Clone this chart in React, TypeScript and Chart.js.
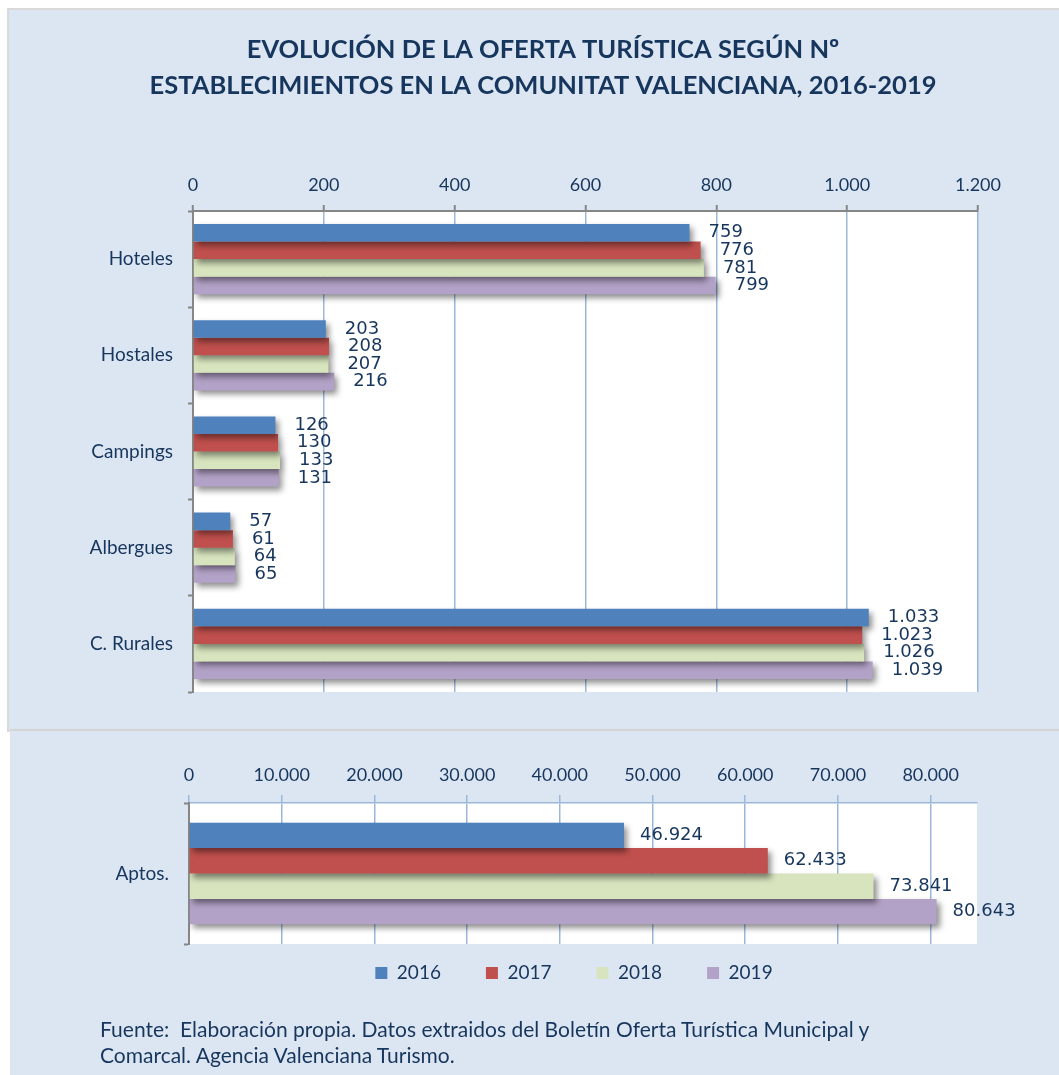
import React, { useEffect, useRef } from 'react';
import { Chart, registerables } from 'chart.js';

Chart.register(...registerables);

const categories = ['Hoteles', 'Hostales', 'Campings', 'Albergues', 'C. Rurales'];
const years = ['2016', '2017', '2018', '2019'];
const values2016 = [759, 203, 126, 57, 1033];
const values2017 = [776, 208, 130, 61, 1023];
const values2018 = [781, 207, 133, 64, 1026];
const values2019 = [799, 216, 131, 65, 1039];
const aptosCategory = ['Aptos.'];
const aptosValues = [46924, 62433, 73841, 80643];
const aptosTicks = [0, 10000, 20000, 30000, 40000, 50000, 60000, 70000, 80000];
const seriesColors = ['#4f81bd', '#c0504d', '#d7e4bd', '#b3a2c7'];
const titleLines = [
  'EVOLUCIÓN DE LA OFERTA TURÍSTICA SEGÚN Nº',
  'ESTABLECIMIENTOS EN LA COMUNITAT VALENCIANA, 2016-2019',
];
const sourceLines = [
  'Fuente:  Elaboración propia. Datos extraidos del Boletín Oferta Turística Municipal y',
  'Comarcal. Agencia Valenciana Turismo.',
];

const TEXT = '#17365d';
const GRID = '#9bb7d9';
const AXIS = '#868686';
const PANEL = '#dce6f2';

const fmt = (v: number) => String(Math.round(v)).replace(/\B(?=(\d{3})+(?!\d))/g, '.');

const plotBg = {
  id: 'plotBg',
  beforeDraw(chart: any) {
    const { ctx, chartArea: a } = chart;
    ctx.save();
    ctx.fillStyle = '#ffffff';
    ctx.fillRect(a.left, a.top, a.right - a.left, a.bottom - a.top);
    ctx.restore();
  },
};

const barShadow = {
  id: 'barShadow',
  beforeDatasetsDraw(chart: any) {
    const ctx = chart.ctx;
    ctx.save();
    ctx.shadowColor = 'rgba(0,0,0,0.45)';
    ctx.shadowBlur = 6;
    ctx.shadowOffsetX = 3;
    ctx.shadowOffsetY = 4;
  },
  afterDatasetsDraw(chart: any) {
    chart.ctx.restore();
  },
};

const valueLabels = {
  id: 'valueLabels',
  afterDraw(chart: any, _args: any, opts: any) {
    const ctx = chart.ctx;
    ctx.save();
    ctx.font = '18px "DejaVu Sans"';
    ctx.fillStyle = TEXT;
    ctx.textBaseline = 'middle';
    ctx.textAlign = 'left';
    chart.data.datasets.forEach((ds: any, i: number) => {
      const meta = chart.getDatasetMeta(i);
      meta.data.forEach((el: any, j: number) => {
        ctx.fillText(fmt(ds.data[j]), el.x + (opts.offset || 0), el.y);
      });
    });
    ctx.restore();
  },
};

// shifts a layout box (legend or title) after Chart.js has placed it
const boxShift = {
  id: 'boxShift',
  afterLayout(chart: any, _args: any, opts: any) {
    const shift = (box: any, s: any) => {
      if (!box || !s) return;
      const dx = s.dx || 0;
      const dy = s.dy || 0;
      box.left += dx;
      box.right += dx;
      box.top += dy;
      box.bottom += dy;
    };
    shift(chart.legend, opts.legend);
    shift(chart.titleBlock, opts.title);
  },
};

function makeDatasets(values: number[][], catPct: number) {
  return years.map((y, i) => ({
    label: y,
    data: values[i],
    backgroundColor: seriesColors[i],
    borderWidth: 0,
    categoryPercentage: catPct,
    barPercentage: 1,
  }));
}

export default function App() {
  const topRef = useRef<HTMLCanvasElement>(null);
  const botRef = useRef<HTMLCanvasElement>(null);

  useEffect(() => {
    const tickFont = { family: 'Lato', size: 18 };
    const catFont = { family: 'Lato', size: 19 };
    const top = new Chart(topRef.current as HTMLCanvasElement, {
      type: 'bar',
      data: {
        labels: categories,
        datasets: makeDatasets([values2016, values2017, values2018, values2019], 0.73) as any,
      },
      plugins: [plotBg, barShadow, valueLabels, boxShift],
      options: {
        indexAxis: 'y',
        responsive: false,
        animation: false,
        events: [],
        layout: { padding: { top: 32, left: 0, right: 81, bottom: 39 } },
        plugins: {
          legend: { display: false },
          tooltip: { enabled: false },
          title: {
            display: true,
            text: titleLines,
            color: TEXT,
            font: { family: 'Lato', size: 25.5, weight: 'bold', lineHeight: '36px' },
            padding: 0,
          },
          valueLabels: { offset: 19 },
          boxShift: { title: { dx: 54, dy: 0 } },
        } as any,
        scales: {
          x: {
            position: 'top',
            min: 0,
            max: 1200,
            ticks: {
              stepSize: 200,
              callback: (v: any) => fmt(Number(v)),
              color: TEXT,
              font: tickFont,
              padding: 9,
            },
            grid: { color: GRID, lineWidth: 1.5, tickColor: AXIS, tickLength: 6, tickWidth: 2 },
            border: { color: AXIS, width: 2 },
            afterFit: (s: any) => {
              s.height = 107;
            },
          },
          y: {
            ticks: { color: TEXT, font: catFont, padding: 15 },
            grid: { drawOnChartArea: false, color: AXIS, tickLength: 5, tickWidth: 2, offset: true },
            border: { color: AXIS, width: 2 },
            afterFit: (s: any) => {
              s.width = 193;
            },
          },
        } as any,
      },
    });

    const bot = new Chart(botRef.current as HTMLCanvasElement, {
      type: 'bar',
      data: {
        labels: aptosCategory,
        datasets: makeDatasets(aptosValues.map((v) => [v]), 0.72) as any,
      },
      plugins: [plotBg, barShadow, valueLabels, boxShift],
      options: {
        indexAxis: 'y',
        responsive: false,
        animation: false,
        events: [],
        layout: { padding: { top: 20, left: 0, right: 82, bottom: 57 } },
        plugins: {
          tooltip: { enabled: false },
          title: { display: false },
          legend: {
            display: true,
            position: 'bottom',
            fullSize: false,
            labels: {
              boxWidth: 12,
              boxHeight: 12,
              padding: 45,
              color: TEXT,
              font: { family: 'Lato', size: 19 },
            },
          },
          valueLabels: { offset: 16 },
          boxShift: { legend: { dx: -9, dy: -25.5 } },
        } as any,
        scales: {
          x: {
            position: 'top',
            min: 0,
            max: 85000,
            bounds: 'data',
            afterBuildTicks: (s: any) => {
              s.ticks = aptosTicks.map((v) => ({ value: v }));
            },
            ticks: {
              callback: (v: any) => fmt(Number(v)),
              color: TEXT,
              font: tickFont,
              padding: 9,
            },
            grid: { color: GRID, lineWidth: 1.5, tickColor: GRID, tickLength: 8, tickWidth: 1.5 },
            border: { color: GRID, width: 1.5 },
            afterFit: (s: any) => {
              s.height = 52;
            },
          },
          y: {
            ticks: { color: TEXT, font: catFont, padding: 15 },
            grid: { drawOnChartArea: false, color: AXIS, tickLength: 5, tickWidth: 2, offset: true },
            border: { color: AXIS, width: 2 },
            afterFit: (s: any) => {
              s.width = 189;
            },
          },
        } as any,
      },
    });

    return () => {
      top.destroy();
      bot.destroy();
    };
  }, []);

  return (
    <div
      style={{
        position: 'absolute',
        left: 0,
        top: 0,
        width: 1059,
        height: 1075,
        background: '#ffffff',
        overflow: 'hidden',
      }}
    >
      <div
        style={{
          position: 'absolute',
          left: 7,
          top: 8,
          width: 1070,
          height: 724,
          background: PANEL,
          border: '2px solid #d9d9d9',
          boxSizing: 'border-box',
        }}
      />
      <div
        style={{
          position: 'absolute',
          left: 10,
          top: 729,
          width: 1070,
          height: 360,
          background: PANEL,
          borderTop: '2px solid #d4d4d4',
          borderLeft: '1px solid #e2e2e2',
          boxSizing: 'border-box',
        }}
      />
      <canvas
        ref={topRef}
        width={1059}
        height={731}
        style={{ position: 'absolute', left: 0, top: 0, width: 1059, height: 731 }}
      />
      <canvas
        ref={botRef}
        width={1059}
        height={344}
        style={{ position: 'absolute', left: 0, top: 731, width: 1059, height: 344 }}
      />
      <div
        style={{
          position: 'absolute',
          left: 100,
          top: 1016,
          fontFamily: 'Lato',
          fontSize: 21,
          lineHeight: '26px',
          color: TEXT,
          whiteSpace: 'pre',
        }}
      >
        {sourceLines[0]}
        <br />
        {sourceLines[1]}
      </div>
    </div>
  );
}
